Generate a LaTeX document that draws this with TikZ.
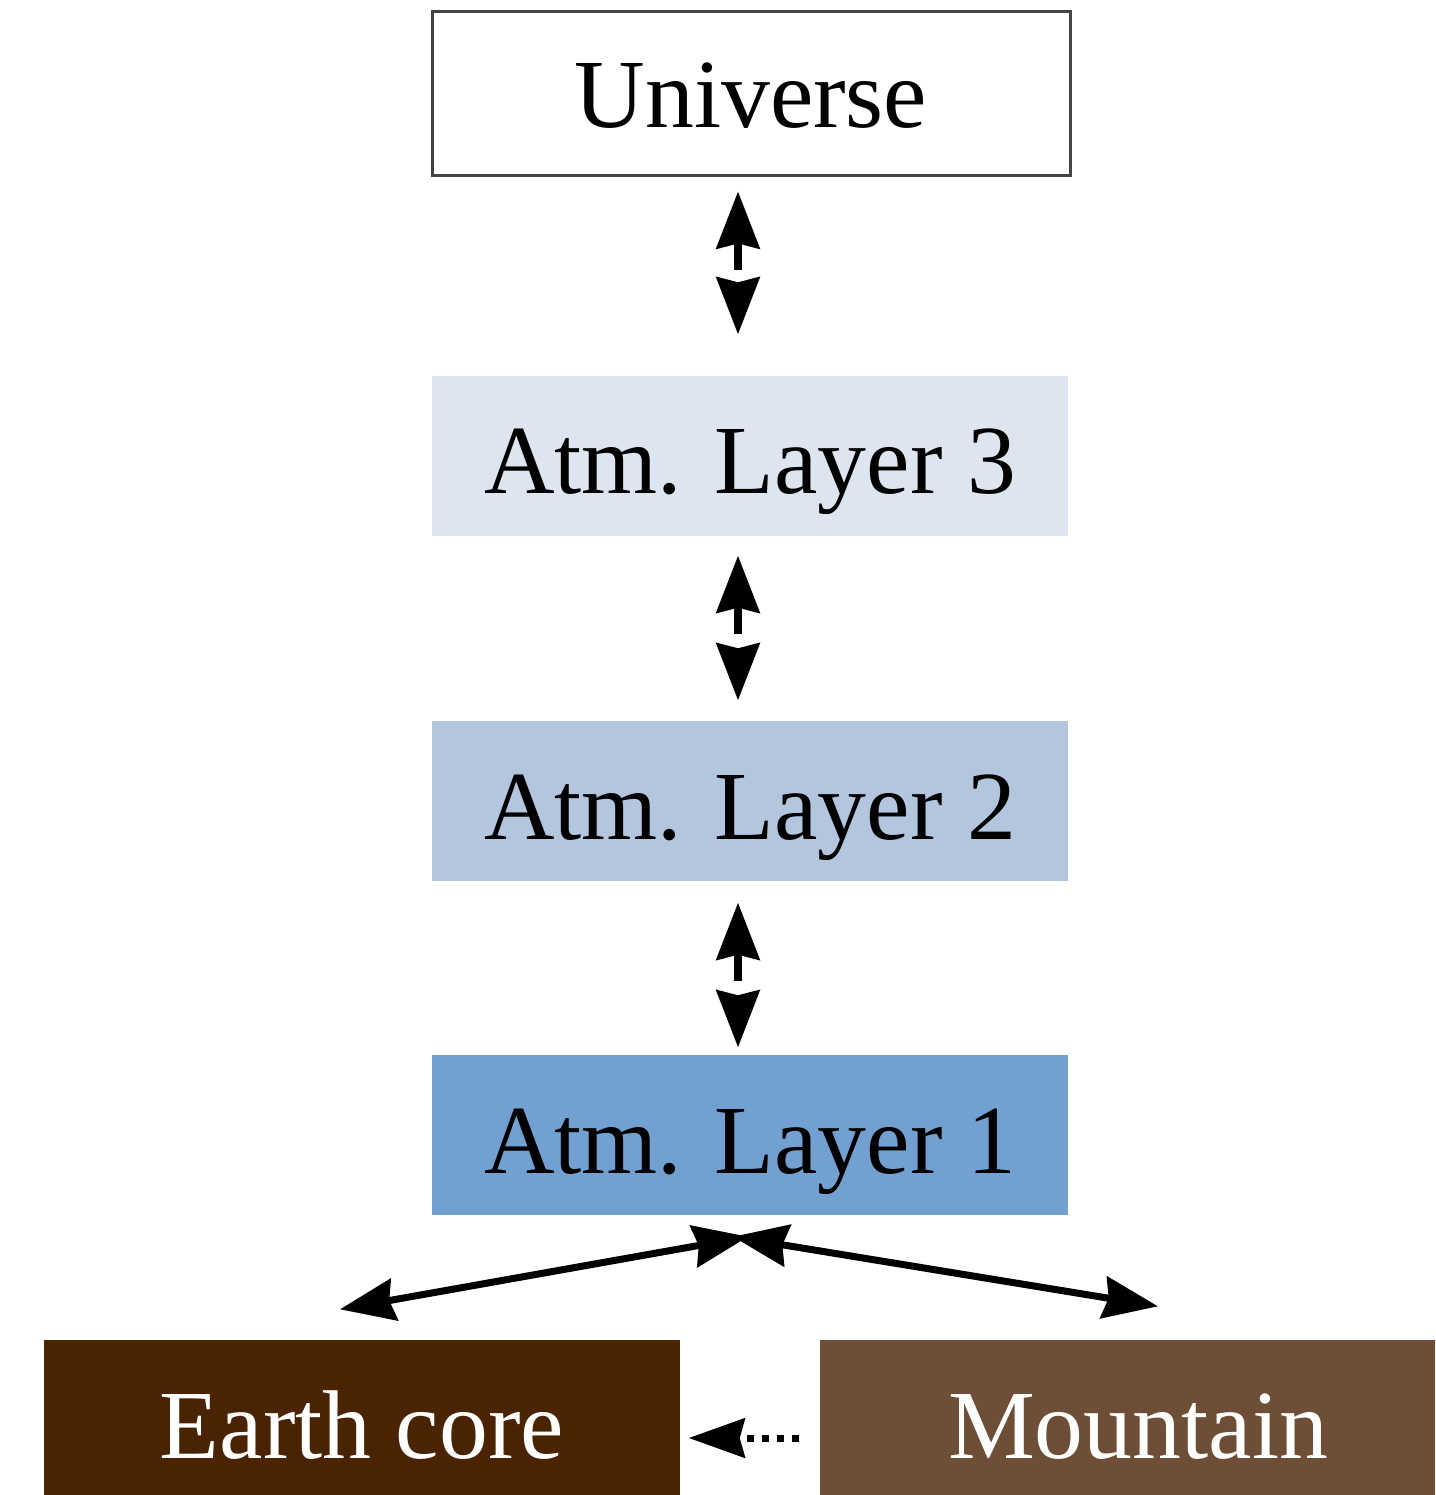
\documentclass[tikz,border=0pt]{standalone}
\usepackage{fontspec}
\setmainfont{Liberation Serif}
\usetikzlibrary{arrows.meta,calc}
\definecolor{lthree}{HTML}{DDE6F0}
\definecolor{ltwo}{HTML}{B3C6DE}
\definecolor{lone}{HTML}{72A0D1}
\definecolor{core}{HTML}{4A2300}
\definecolor{mount}{HTML}{6F4E37}
\definecolor{bord}{HTML}{444444}
\tikzset{
  box/.style={minimum width=63.6mm, minimum height=16mm, inner sep=0pt,
    text height=7.6mm, text depth=0mm,
    font=\fontsize{27.8}{33}\selectfont},
  dbl/.style={line width=0.75mm, {Stealth[length=5.7mm,width=4.3mm,inset=0.5mm]}-{Stealth[length=5.7mm,width=4.3mm,inset=0.5mm]}, dash pattern=on 2.8mm off 2mm},
  sol/.style={line width=0.7mm, {Stealth[length=5.5mm,width=4.2mm,inset=0.5mm]}-{Stealth[length=5.5mm,width=4.2mm,inset=0.5mm]}},
  dotarrow/.style={line width=0.7mm, -{Stealth[length=5.6mm,width=3.9mm,inset=0.5mm]}, dash pattern=on 0.7mm off 0.8mm}
}
\begin{document}
\begin{tikzpicture}[x=0.1mm,y=-0.1mm]
\clip (0,0) rectangle (1435,1495);
\fill[white] (0,0) rectangle (1435,1495);
\node[box, draw=bord, line width=0.3mm, fill=white, minimum width=63.8mm, minimum height=16.4mm, text height=6.8mm] (u) at (751,94) {Universe};
\node[box, fill=lthree] (l3) at (750,456) {Atm. Layer 3};
\node[box, fill=ltwo] (l2) at (750,801) {Atm. Layer 2};
\node[box, fill=lone] (l1) at (750,1135) {Atm. Layer 1};
\node[box, fill=core, text=white] (ec) at (362,1420) {Earth core};
\node[box, fill=mount, text=white] (mt) at (1138,1420) {Mountain};
\draw[dbl] ($(u.south)+(-13,14)$) -- ($(l3.north)+(-12,-41)$);
\draw[dbl] ($(l3.south)+(-12,19)$) -- ($(l2.north)+(-12,-20)$);
\draw[dbl] ($(l2.south)+(-12,21)$) -- ($(l1.north)+(-12,-7)$);
\coordinate (ml) at ($(l1.south)+(-2,21)$);
\coordinate (mr) at ($(l1.south)+(-17,21)$);
\draw[sol] (ml) -- ($(ec.north)+(-22,-30)$);
\draw[sol] (mr) -- ($(mt.north)+(20,-33)$);
\draw[dotarrow] ($(mt.west)+(-20,18)$) -- ($(ec.east)+(8,18)$);
\end{tikzpicture}
\end{document}
